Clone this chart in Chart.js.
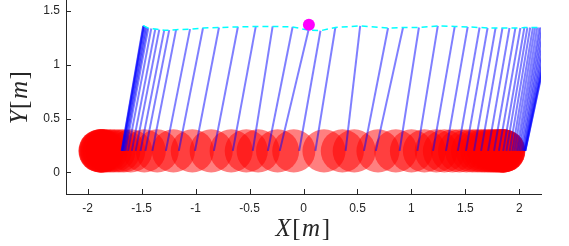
<!DOCTYPE html>
<html>
<head>
<meta charset="utf-8">
<script src="https://cdn.jsdelivr.net/npm/chart.js@4/dist/chart.umd.min.js"></script>
<style>
    html, body { margin: 0; padding: 0; background: #fff; }
    #wrap { width: 569px; height: 246px; position: relative; }
</style>
</head>
<body>
<div id="wrap"><canvas id="cartPoleChart"></canvas></div>
<script>
// pole pivot on the cart, one value per frame
const cartX = [
    -1.685, -1.683, -1.68, -1.675, -1.668, -1.66, -1.648, -1.625, -1.59, -1.555,
    -1.51, -1.465, -1.40, -1.275, -1.155, -1.005, -0.83, -0.655, -0.47, -0.33,
    -0.22, -0.04, 0.11, 0.39, 0.56, 0.67, 0.89, 1.055, 1.20, 1.32,
    1.43, 1.505, 1.58, 1.645, 1.71, 1.765, 1.81, 1.85, 1.88, 1.91,
    1.935, 1.955, 1.975, 1.99, 2.005, 2.02, 2.03, 2.04, 2.045, 2.05,
    2.053, 2.055, 2.055
];
// pole tip, one value per frame
const tipX = [
    -1.485, -1.482, -1.478, -1.47, -1.46, -1.45, -1.438, -1.41, -1.373, -1.336,
    -1.29, -1.244, -1.18, -1.051, -0.931, -0.783, -0.608, -0.442, -0.286, -0.101,
    0.046, 0.157, 0.295, 0.525, 0.783, 0.922, 1.069, 1.244, 1.401, 1.521,
    1.631, 1.705, 1.779, 1.843, 1.908, 1.963, 2.009, 2.046, 2.074, 2.10,
    2.125, 2.145, 2.165, 2.185, 2.20, 2.215, 2.23, 2.245, 2.26, 2.275,
    2.285, 2.295, 2.30
];
const tipY = [
    1.36, 1.36, 1.36, 1.355, 1.35, 1.345, 1.34, 1.335, 1.33, 1.325,
    1.32, 1.32, 1.325, 1.33, 1.34, 1.345, 1.35, 1.355, 1.355, 1.35,
    1.32, 1.315, 1.345, 1.36, 1.34, 1.345, 1.345, 1.36, 1.355, 1.35,
    1.345, 1.34, 1.34, 1.34, 1.34, 1.34, 1.34, 1.345, 1.345, 1.345,
    1.345, 1.345, 1.345, 1.345, 1.345, 1.345, 1.345, 1.345, 1.345, 1.345,
    1.345, 1.345, 1.345
];
const targetPoint = [0.05, 1.37];

const xTicks = [-2, -1.5, -1, -0.5, 0, 0.5, 1, 1.5, 2];
const xTickLabels = ['-2', '-1.5', '-1', '-0.5', '0', '0.5', '1', '1.5', '2'];
const yTicks = [0, 0.5, 1, 1.5];
const yTickLabels = ['0', '0.5', '1', '1.5'];
const xTitle = 'X[m]';
const yTitle = 'Y[m]';

const CART_Y = 0.2;
const WHEEL_R = 0.2;
const AXIS_COLOR = '#262626';
const TITLE_SIZE = 25;

// latex-like label: letters italic, brackets upright
function drawMathLabel(ctx, text, cx, baseline) {
    const parts = text.split('').map(ch => ({
        ch: ch,
        font: (/[A-Za-z]/.test(ch) ? 'italic ' : '') + TITLE_SIZE + 'px "Liberation Serif"'
    }));
    let total = 0;
    parts.forEach(p => {
        ctx.font = p.font;
        p.w = ctx.measureText(p.ch).width + 1.5;
        total += p.w;
    });
    let x = cx - total / 2;
    ctx.fillStyle = AXIS_COLOR;
    ctx.textBaseline = 'alphabetic';
    ctx.textAlign = 'left';
    parts.forEach(p => {
        ctx.font = p.font;
        ctx.fillText(p.ch, x, baseline);
        x += p.w;
    });
}

// inward tick marks and axis titles, matlab style
const axisDecor = {
    id: 'axisDecor',
    afterDraw(chart) {
        const {ctx, chartArea, scales: {x, y}} = chart;
        ctx.save();
        ctx.strokeStyle = AXIS_COLOR;
        ctx.lineWidth = 1;
        ctx.beginPath();
        xTicks.forEach(v => {
            const px = Math.round(x.getPixelForValue(v)) + 0.5;
            ctx.moveTo(px, chartArea.bottom);
            ctx.lineTo(px, chartArea.bottom - 5);
        });
        yTicks.forEach(v => {
            const py = Math.round(y.getPixelForValue(v)) + 0.5;
            ctx.moveTo(chartArea.left, py);
            ctx.lineTo(chartArea.left + 5, py);
        });
        ctx.stroke();

        drawMathLabel(ctx, xTitle, (chartArea.left + chartArea.right) / 2, 236);
        ctx.translate(27, (chartArea.top + chartArea.bottom) / 2);
        ctx.rotate(-Math.PI / 2);
        drawMathLabel(ctx, yTitle, 0, 0);
        ctx.restore();
    }
};

function wheelRadius(context) {
    const xs = context.chart.scales.x;
    return Math.abs(xs.getPixelForValue(WHEEL_R) - xs.getPixelForValue(0));
}

function buildDatasets() {
    const sets = [];

    sets.push({
        label: 'target',
        data: [{x: targetPoint[0], y: targetPoint[1]}],
        pointRadius: 6,
        pointBackgroundColor: '#ff00ff',
        pointBorderWidth: 0
    });

    sets.push({
        label: 'tip path',
        data: tipX.map((v, i) => ({x: v, y: tipY[i]})),
        showLine: true,
        borderColor: '#00ffff',
        borderWidth: 1.5,
        borderDash: [6, 4],
        pointRadius: 0
    });

    // one line per frame so overlapping poles darken
    cartX.forEach((cx, i) => {
        sets.push({
            label: 'pole ' + i,
            data: [{x: cx, y: CART_Y}, {x: tipX[i], y: tipY[i]}],
            showLine: true,
            borderColor: 'rgba(0, 0, 255, 0.5)',
            borderWidth: 2,
            pointRadius: 0
        });
    });

    sets.push({
        label: 'wheels',
        data: cartX.map(cx => ({x: cx - WHEEL_R, y: CART_Y})),
        pointRadius: wheelRadius,
        pointBackgroundColor: 'rgba(255, 0, 0, 0.5)',
        pointBorderWidth: 0
    });

    return sets;
}

function initCartPoleChart() {
    const ctx = document.getElementById('cartPoleChart');
    const tickFont = {family: '"Liberation Sans", Arial, sans-serif', size: 12};

    new Chart(ctx, {
        type: 'scatter',
        data: {datasets: buildDatasets()},
        options: {
            responsive: true,
            maintainAspectRatio: false,
            animation: false,
            events: [],
            layout: {
                autoPadding: false,
                padding: {left: 0, right: 28, top: 0, bottom: 0}
            },
            plugins: {
                legend: {display: false},
                tooltip: {enabled: false}
            },
            scales: {
                x: {
                    type: 'linear',
                    min: -2.2,
                    max: 2.2,
                    afterBuildTicks: scale => {
                        scale.ticks = xTicks.map(v => ({value: v}));
                    },
                    afterFit: scale => {
                        scale.height = 52;
                        scale.paddingLeft = 0;
                        scale.paddingRight = 0;
                    },
                    ticks: {
                        padding: 7,
                        color: AXIS_COLOR,
                        font: tickFont,
                        maxRotation: 0,
                        callback: (v, i) => xTickLabels[i]
                    },
                    grid: {drawOnChartArea: false, drawTicks: false},
                    border: {display: true, color: AXIS_COLOR, width: 1}
                },
                y: {
                    type: 'linear',
                    min: -0.2,
                    max: 1.6,
                    afterBuildTicks: scale => {
                        scale.ticks = yTicks.map(v => ({value: v}));
                    },
                    afterFit: scale => {
                        scale.width = 66;
                        scale.paddingTop = 0;
                        scale.paddingBottom = 0;
                    },
                    ticks: {
                        padding: 6,
                        color: AXIS_COLOR,
                        font: tickFont,
                        callback: (v, i) => yTickLabels[i]
                    },
                    grid: {drawOnChartArea: false, drawTicks: false},
                    border: {display: true, color: AXIS_COLOR, width: 1}
                }
            }
        },
        plugins: [axisDecor]
    });
}

document.addEventListener('DOMContentLoaded', initCartPoleChart);
</script>
</body>
</html>
